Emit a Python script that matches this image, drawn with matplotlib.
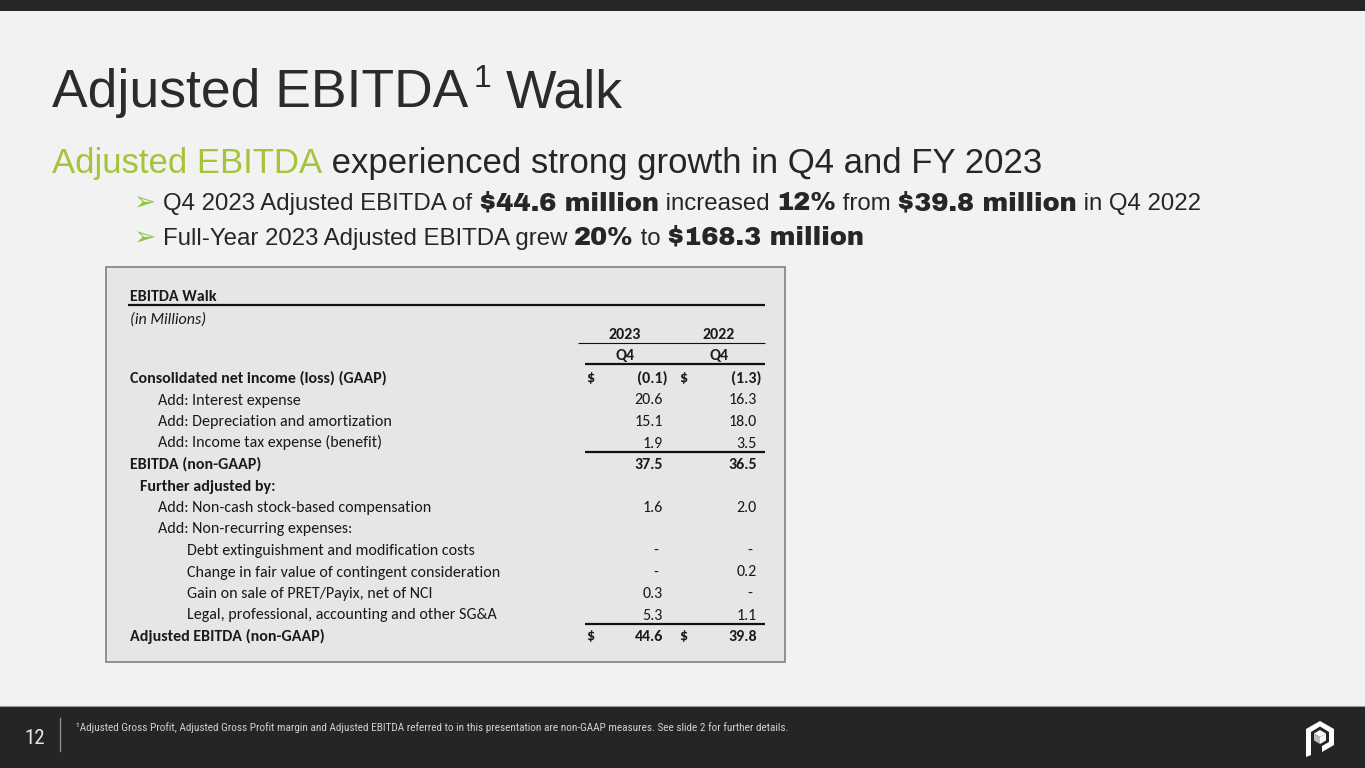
import matplotlib
matplotlib.use("Agg")
import matplotlib.pyplot as plt
from matplotlib.patches import Rectangle, Polygon
from matplotlib import font_manager

W, H = 1365, 768

# ---- data ----
title = "Adjusted EBITDA"
subtitle_green = "Adjusted EBITDA"
subtitle_rest = " experienced strong growth in Q4 and FY 2023"
bullet1 = [("Q4 2023 Adjusted EBITDA of ", False), ("$44.6 million", True),
           (" increased ", False), ("12%", True), (" from ", False),
           ("$39.8 million", True), (" in Q4 2022", False)]
bullet2 = [("Full-Year 2023 Adjusted EBITDA grew ", False), ("20%", True),
           (" to ", False), ("$168.3 million", True)]

years = ["2023", "2022"]
quarters = ["Q4", "Q4"]
row_labels = ["Consolidated net income (loss) (GAAP)",
              "Add: Interest expense",
              "Add: Depreciation and amortization",
              "Add: Income tax expense (benefit)",
              "EBITDA (non-GAAP)",
              "Further adjusted by:",
              "Add: Non-cash stock-based compensation",
              "Add: Non-recurring expenses:",
              "Debt extinguishment and modification costs",
              "Change in fair value of contingent consideration",
              "Gain on sale of PRET/Payix, net of NCI",
              "Legal, professional, accounting and other SG&A",
              "Adjusted EBITDA (non-GAAP)"]
row_indent = [0, 1, 1, 1, 0, 0.35, 1, 1, 2, 2, 2, 2, 0]
row_bold = [True, False, False, False, True, True, False, False, False, False, False, False, True]
row_dollar = [True] + [False] * 11 + [True]
q4_2023 = [-0.1, 20.6, 15.1, 1.9, 37.5, None, 1.6, None, 0, 0, 0.3, 5.3, 44.6]
q4_2022 = [-1.3, 16.3, 18.0, 3.5, 36.5, None, 2.0, None, 0, 0.2, 0, 1.1, 39.8]
footnote = ("\u00b9Adjusted Gross Profit, Adjusted Gross Profit margin and Adjusted EBITDA referred to in "
            "this presentation are non-GAAP measures. See slide 2 for further details.")
page_no = "12"

# ---- fonts ----
names = {f.name for f in font_manager.fontManager.ttflist}


def pick(*cands):
    for c in cands:
        if c in names:
            return c
    return "Liberation Sans"


sans = pick("Liberation Sans", "Arimo")
narrow = pick("Liberation Sans Narrow", "Roboto Condensed", "Archivo Narrow", "PT Sans Narrow")
heavy = pick("Archivo Black", "Roboto Black", "Liberation Sans")
tfont = pick("Carlito", "Lato")

DARK = "#262626"
GREEN = "#a6c43a"
ARROW = "#8cc63f"

fig = plt.figure(figsize=(W / 100, H / 100), dpi=100)
fig.patch.set_facecolor("#f2f2f2")
ax = fig.add_axes([0, 0, 1, 1])
ax.set_xlim(0, W)
ax.set_ylim(H, 0)
ax.axis("off")
renderer = fig.canvas.get_renderer()


def runs(x, y, pieces, **kw):
    # draw text pieces one after another on the same baseline
    for txt, props in pieces:
        t = ax.text(x, y, txt, va="baseline", ha="left", **kw, **props)
        x += t.get_window_extent(renderer).width
    return x


# top bar and footer band
ax.add_patch(Rectangle((0, 0), W, 11, color=DARK, lw=0))
ax.add_patch(Rectangle((0, 706), W, 62, color="#252525", lw=0))
ax.plot([0, W], [706, 706], color="#9a9a9a", lw=0.8)

# title
x = runs(52, 107, [(title, dict(fontsize=38.5, color="#2b2b2b"))], family=sans)
x = runs(x + 5, 87, [("1", dict(fontsize=23, color="#2b2b2b"))], family=sans)
runs(x + 15, 107, [("Walk", dict(fontsize=38.5, color="#2b2b2b"))], family=sans)

# subtitle
runs(52, 173, [(subtitle_green, dict(fontsize=25, color=GREEN)),
               (subtitle_rest, dict(fontsize=25, color=DARK))], family=sans)

# bullets
for by, b in [(210, bullet1), (245, bullet2)]:
    ax.text(133, by, "\u27a2", fontsize=19, color=ARROW, va="baseline", ha="left",
            family="DejaVu Sans")
    pieces = []
    for txt, bold in b:
        if bold:
            pieces.append((txt, dict(fontsize=18.5, color=DARK, family=heavy)))
        else:
            pieces.append((txt, dict(fontsize=17.3, color=DARK, family=sans)))
    runs(163, by, pieces)

# table box
ax.add_patch(Rectangle((106, 267), 679, 395, facecolor="#e6e6e6", edgecolor="#808080", lw=1.2))

TS = 11.5
tk = dict(family=tfont, color="#1a1a1a", fontsize=TS)
ax.text(130, 301, "EBITDA Walk", va="baseline", weight="bold", **tk)
ax.plot([128, 765], [305, 305], color="#111111", lw=1.6, solid_capstyle="butt")
ax.text(130, 324, "(in Millions)", va="baseline", style="italic", **tk)

col_l = [578, 672]
col_r = [672, 765]
num_r = [663, 757]
dol_x = [590, 683]
for i in range(2):
    cx = (col_l[i] + col_r[i]) / 2
    ax.text(cx, 339, years[i], ha="center", va="baseline", weight="bold", **tk)
    ax.text(cx, 360, quarters[i], ha="center", va="baseline", weight="bold", **tk)
ax.plot([578, 765], [343, 343], color="#111111", lw=0.8, solid_capstyle="butt")
ax.plot([585, 765], [364, 364], color="#111111", lw=1.6, solid_capstyle="butt")


def fmt(v):
    if v is None:
        return ""
    if v == 0:
        return "-"
    if v < 0:
        return "(%.1f)" % -v
    return "%.1f" % v


y0, step = 383, 21.5
for r, lab in enumerate(row_labels):
    y = y0 + r * step
    w = "bold" if row_bold[r] else "normal"
    ax.text(130 + row_indent[r] * 28.5, y, lab, va="baseline", weight=w, **tk)
    for i, vals in enumerate([q4_2023, q4_2022]):
        s = fmt(vals[r])
        if s == "-":
            ax.text(num_r[i] - 5, y, s, ha="right", va="baseline", weight=w, **tk)
        elif s.startswith("("):
            ax.text(num_r[i] + 5, y, s, ha="right", va="baseline", weight=w, **tk)
        elif s:
            ax.text(num_r[i], y, s, ha="right", va="baseline", weight=w, **tk)
        if row_dollar[r]:
            ax.text(dol_x[i], y, "$", ha="center", va="baseline", weight="bold", **tk)

ax.plot([585, 765], [452, 452], color="#111111", lw=1.6, solid_capstyle="butt")
ax.plot([585, 765], [624, 624], color="#111111", lw=1.6, solid_capstyle="butt")

# footer
ax.text(35, 744, page_no, ha="center", va="baseline", fontsize=15, color="#e8e8e8", family=narrow)
ax.plot([60, 60], [718, 751], color="#8a8a8a", lw=1)
ax.text(76, 731, footnote, ha="left", va="baseline", fontsize=8.1, color="#d0d0d0", family=narrow)

# logo (approximate)
cx, cy = 1320, 737
outer = [(-14, 20), (-14, -8), (0, -16), (14, -8), (14, 8), (2, 15), (2, 9), (9, 5), (9, -5),
         (0, -10.5), (-9, -5), (-9, 18)]
ax.add_patch(Polygon([(cx + a, cy + b) for a, b in outer], closed=True, color="white", lw=0))
top = [(0, -7), (6, -3.5), (0, 0), (-6, -3.5)]
left = [(-6, -3.5), (0, 0), (0, 7), (-6, 3.5)]
right = [(0, 0), (6, -3.5), (6, 3.5), (0, 7)]
ax.add_patch(Polygon([(cx + a, cy + b) for a, b in top], closed=True, color="white", lw=0))
ax.add_patch(Polygon([(cx + a, cy + b) for a, b in left], closed=True, color="#bdbdbd", lw=0))
ax.add_patch(Polygon([(cx + a, cy + b) for a, b in right], closed=True, color="#f5f5f5", lw=0))

fig.savefig("out.png", dpi=100, facecolor=fig.get_facecolor())
